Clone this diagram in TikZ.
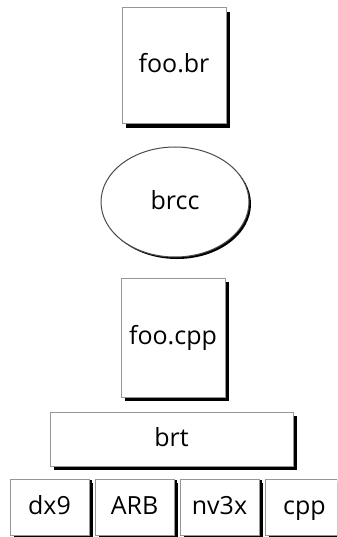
\documentclass[tikz,border=0pt]{standalone}
\usepackage{fontspec}
\setmainfont{Open Sans}
\usetikzlibrary{shadows,shapes.geometric}
\definecolor{edgegray}{RGB}{150,150,150}
\tikzset{
  blk/.style={rectangle, draw=edgegray, line width=1pt, fill=white, inner sep=0pt,
    font=\fontsize{25}{30}\selectfont, text height=20pt, text depth=6pt,
    drop shadow={shadow xshift=4pt, shadow yshift=-4pt, fill=black, opacity=1}},
  oval/.style={ellipse, draw=black!70, line width=1pt, fill=white, inner sep=0pt,
    font=\fontsize{25}{30}\selectfont, text height=20pt, text depth=6pt,
    drop shadow={shadow xshift=2pt, shadow yshift=-2pt, fill=black, opacity=1}},
  small/.style={blk, drop shadow={shadow xshift=3pt, shadow yshift=-1pt, fill=black, opacity=1}}
}
\begin{document}
\begin{tikzpicture}[x=1pt,y=-1pt]
\useasboundingbox (0,0) rectangle (337,537);
\clip (0,0) rectangle (337,537);
\fill[white] (0,0) rectangle (337,537);
\node[blk, minimum width=104pt, minimum height=116pt] (foobr) at (174,66) {foo.br};
\node[oval, minimum width=148pt, minimum height=110pt] (brcc) at (175,202) {brcc};
\node[blk, minimum width=104pt, minimum height=119pt] (foocpp) at (173,337.5) {foo.cpp};
\node[blk, minimum width=243pt, minimum height=54pt] (brt) at (171.5,439) {brt};
\node[small, minimum width=79pt, minimum height=56pt] (dx9) at (49.5,507) {dx9};
\node[small, minimum width=79pt, minimum height=56pt] (arb) at (134.5,507) {ARB};
\node[small, minimum width=79pt, minimum height=56pt] (nv3x) at (219.5,507) {nv3x};
\node[small, minimum width=79pt, minimum height=56pt] (cpp) at (304.5,507) {cpp};
\end{tikzpicture}
\end{document}
